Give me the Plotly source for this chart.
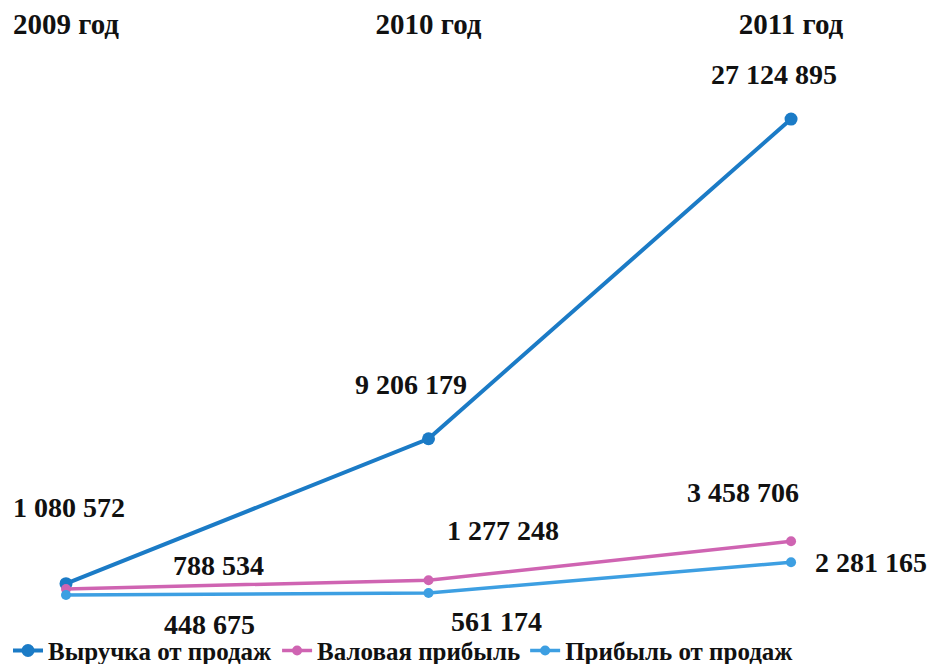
import plotly.graph_objects as go

years = ["2009 год", "2010 год", "2011 год"]
revenue = [1080572, 9206179, 27124895]
gross_profit = [788534, 1277248, 3458706]
sales_profit = [448675, 561174, 2281165]
series_names = ["Выручка от продаж", "Валовая прибыль", "Прибыль от продаж"]

colors = ["#1B7BC6", "#CF64B2", "#3D9FE2"]
FONT = "Liberation Serif"

def fmt(v):
    return f"{v:,}".replace(",", " ")

x = [0, 1, 2]
fig = go.Figure()
series = [revenue, gross_profit, sales_profit]
widths = [4, 3.5, 3.5]
msizes = [13, 10, 10]
for name, vals, c, w, ms in zip(series_names, series, colors, widths, msizes):
    fig.add_trace(go.Scatter(
        x=x, y=vals, name=name, mode="lines+markers",
        line=dict(color=c, width=w), marker=dict(color=c, size=ms),
    ))

# label offsets (px) per series, per point
shifts = [
    [(3, 76), (-18, 54), (-17, 45)],
    [(152, 23), (74, 50), (-48, 49)],
    [(143, -29), (68, -29), (80, 0)],
]
for vals, sh in zip(series, shifts):
    for i, v in enumerate(vals):
        fig.add_annotation(
            x=x[i], y=v, text=fmt(v), showarrow=False,
            xshift=sh[i][0], yshift=sh[i][1],
            font=dict(family=FONT, size=28, color="#111111", weight="bold"),
        )

fig.update_layout(
    width=936, height=664,
    margin=dict(l=3, r=17, t=33, b=69, autoexpand=False),
    paper_bgcolor="white", plot_bgcolor="white",
    showlegend=True,
    legend=dict(orientation="h", xref="container", x=0.0, xanchor="left",
                yref="container", y=0.032, yanchor="middle",
                font=dict(family=FONT, size=25, color="#111111", weight="bold"),
                itemwidth=30, tracegroupgap=0, bgcolor="rgba(0,0,0,0)"),
    font=dict(family=FONT, color="#111111"),
)
fig.update_xaxes(
    range=[-0.1517, 2.375], side="top", tickvals=x, ticktext=years,
    showgrid=False, zeroline=False, showline=False, ticks="", automargin=False,
    ticklabelstandoff=0,
    tickfont=dict(family=FONT, size=29, color="#111111", weight="bold"),
)
fig.update_yaxes(range=[0, 31.5e6], showgrid=False, zeroline=False, automargin=False,
                 showline=False, showticklabels=False, ticks="")

fig.write_html("out.html")
